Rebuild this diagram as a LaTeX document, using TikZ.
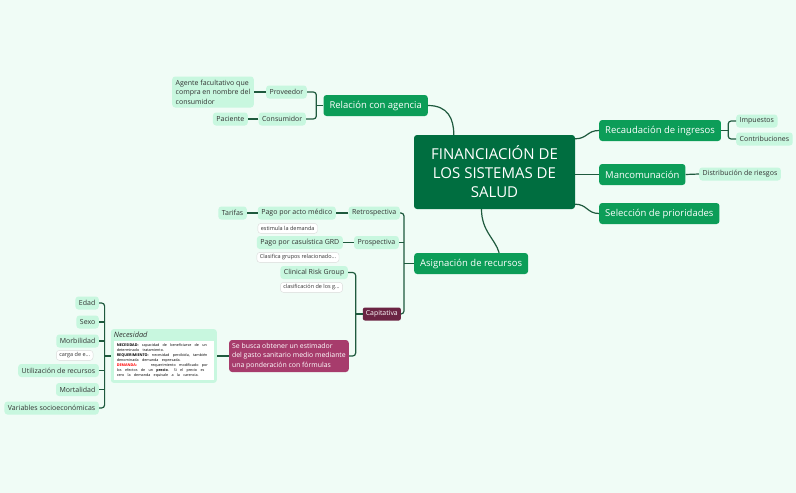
\documentclass[tikz,border=0pt]{standalone}
\usepackage{fontspec}
\setmainfont{Open Sans}
\usetikzlibrary{positioning}

\definecolor{fondo}{HTML}{F0FCF6}
\definecolor{raizverde}{HTML}{006E40}
\definecolor{ramaverde}{HTML}{0C9D58}
\definecolor{hojaverde}{HTML}{C8F7DF}
\definecolor{lineaverde}{HTML}{1F5A3E}
\definecolor{textogris}{HTML}{333333}
\definecolor{notaborde}{HTML}{DADADA}
\definecolor{capvino}{HTML}{6B2443}
\definecolor{formrosa}{HTML}{A73C6C}

\begin{document}
\begin{tikzpicture}[x=1pt, y=-1pt]
    \tikzstyle{every node} = [align=center, inner sep=0pt]
    \tikzstyle{raiz} = [fill=raizverde, text=white, rounded corners=3pt, font=\fontsize{15}{19}\selectfont, minimum width=161pt, minimum height=74pt]
    \tikzstyle{rama} = [fill=ramaverde, text=white, rounded corners=3pt, font=\fontsize{9.5}{11}\selectfont, minimum height=21pt, inner xsep=6pt]
    \tikzstyle{hoja} = [fill=hojaverde, text=textogris, rounded corners=3pt, font=\fontsize{7}{9.5}\selectfont, minimum height=13pt, inner xsep=3.5pt]
    \tikzstyle{nota} = [fill=white, draw=notaborde, line width=0.4pt, rounded corners=3pt, text=textogris, font=\fontsize{5.5}{6.5}\selectfont, minimum height=10pt, inner xsep=3pt]
    \tikzstyle{capnodo} = [fill=capvino, text=white, rounded corners=2pt, font=\fontsize{6.9}{8}\selectfont, minimum height=13pt, inner xsep=3pt]
    \tikzstyle{formula} = [fill=formrosa, text=white, rounded corners=3pt, align=left, font=\fontsize{6.9}{9.5}\selectfont, minimum height=32pt, inner xsep=3pt]
    \tikzstyle{necbox} = [fill=hojaverde, text=textogris, rounded corners=3pt, align=left, text width=100pt, inner sep=3pt]
    \tikzstyle{linea} = [draw=lineaverde, line width=1.2pt, rounded corners=3pt]

    \fill[fondo] (0,0) rectangle (796,493);

    \node[raiz] (fin) at (494.5,172) {FINANCIACIÓN DE\\LOS SISTEMAS DE\\SALUD};
    \node[rama, anchor=east] (rel) at (428,105.5) {Relación con agencia};
    \node[rama, anchor=west] (rec) at (599,130.5) {Recaudación de ingresos};
    \node[rama, anchor=west] (manc) at (599,174.5) {Mancomunación};
    \node[rama, anchor=west] (sel) at (599,213.5) {Selección de prioridades};
    \node[rama, anchor=west] (asig) at (414,263.5) {Asignación de recursos};

    \node[hoja, anchor=east] (prov) at (307,92) {Proveedor};
    \node[hoja, anchor=east] (cons) at (306,119) {Consumidor};
    \node[hoja, anchor=east, align=left, minimum height=31pt] (agente) at (254,92) {Agente facultativo que\\compra en nombre del\\consumidor};
    \node[hoja, anchor=east] (pac) at (248,119) {Paciente};

    \node[hoja, anchor=west] (imp) at (736,121) {Impuestos};
    \node[hoja, anchor=west] (contr) at (736,139) {Contribuciones};
    \node[hoja, anchor=west] (dist) at (699,174) {Distribución de riesgos};

    \node[hoja, anchor=east] (retro) at (400,213) {Retrospectiva};
    \node[hoja, anchor=east] (acto) at (336,213) {Pago por acto médico};
    \node[hoja, anchor=east] (tarif) at (247,213) {Tarifas};
    \node[nota, below=3.5pt of acto.south west, anchor=north west] (estim) {estimula la demanda};
    \node[hoja, anchor=east] (prosp) at (399,242.5) {Prospectiva};
    \node[hoja, anchor=east] (grd) at (343,242.5) {Pago por casuística GRD};
    \node[nota, below=3pt of grd.south west, anchor=north west] (clasgrd) {Clasifica grupos relacionado...};

    \node[capnodo, anchor=east] (capit) at (401,314) {Capitativa};
    \node[hoja, anchor=east] (crg) at (348,272.5) {Clinical Risk Group};
    \node[nota, below=3pt of crg.south west, anchor=north west] (clascrg) {clasificación de los g...};
    \node[formula, anchor=east] (busca) at (349,356) {Se busca obtener un estimador\\del gasto sanitario medio mediante\\una ponderación con fórmulas};

    \node[necbox, anchor=east] (nec) at (217,356) {{\fontsize{7.4}{9}\selectfont\itshape Necesidad}\\[2pt]
        \colorbox{white}{\parbox{94pt}{\raggedright\fontsize{3.7}{4.9}\selectfont\color{black}
        \textbf{NECESIDAD:} capacidad de beneficiarse de un determinado tratamiento.\\
        \textbf{REQUERIMIENTO:} necesidad percibida, también denominada demanda expresada.\\
        \textbf{\textcolor{red}{DEMANDA:}}\hspace{14pt}requerimiento modificado por los efectos de un \textbf{precio}. Si el precio es cero la demanda equivale a la carencia.}}};

    \foreach \n/\t/\y in {edad/Edad/303, sexo/Sexo/322, morb/Morbilidad/341, util/Utilización de recursos/370.5, mort/Mortalidad/389.5, vars/Variables socioeconómicas/408}
        \node[hoja, anchor=east] (\n) at (99,\y) {\t};
    \node[nota, below=2.5pt of morb.south west, anchor=north west] (carga) {carga de e...};

    \draw[linea] (rel.east) .. controls +(20,0) and +(0,-16) .. ([xshift=40pt]fin.north west);
    \draw[linea] ([yshift=-4pt]fin.north east) .. controls +(12,0) and +(-12,0) .. (rec.west);
    \draw[linea] (fin.east |- manc.west) -- (manc.west);
    \draw[linea] ([yshift=5pt]fin.south east) .. controls +(12,0) and +(-12,0) .. (sel.west);
    \draw[linea] ([xshift=-13pt]fin.south) .. controls +(0,22) and +(-4,-14) .. ([xshift=28pt]asig.north);

    \coordinate (relJ) at ([xshift=-7pt]rel.west);
    \draw[linea] (prov.east) -| (relJ) |- (cons.east);
    \draw[linea] (rel.west) -- (relJ);
    \draw[linea] (prov.west) -- (agente.east);
    \draw[linea] (cons.west) -- (pac.east);

    \coordinate (recJ) at ([xshift=7pt]rec.east);
    \draw[linea] (imp.west) -| (recJ) |- (contr.west);
    \draw[linea] (rec.east) -- (recJ);
    \draw[linea] (manc.east) -- (dist.west);

    \coordinate (asigJ) at ([xshift=-10pt]asig.west);
    \draw[linea] (retro.east) -| (asigJ) |- (capit.east);
    \draw[linea] (prosp.east) -- (prosp.east -| asigJ);
    \draw[linea] (asig.west) -- (asigJ);
    \draw[linea] (retro.west) -- (acto.east);
    \draw[linea] (acto.west) -- (tarif.east);
    \draw[linea] (prosp.west) -- (grd.east);

    \coordinate (capJ) at ([xshift=-7pt]capit.west);
    \draw[linea] (crg.east) -| (capJ) |- (busca.east);
    \draw[linea] (capit.west) -- (capJ);
    \draw[linea] (busca.west) -- (nec.east);

    \coordinate (necJ) at ([xshift=-6pt]nec.west);
    \draw[linea] (edad.east) -| (necJ) |- (vars.east);
    \draw[linea] (nec.west) -- (necJ);
    \foreach \n in {sexo,morb,util,mort}
        \draw[linea] (\n.east) -- (\n.east -| necJ);
\end{tikzpicture}
\end{document}
